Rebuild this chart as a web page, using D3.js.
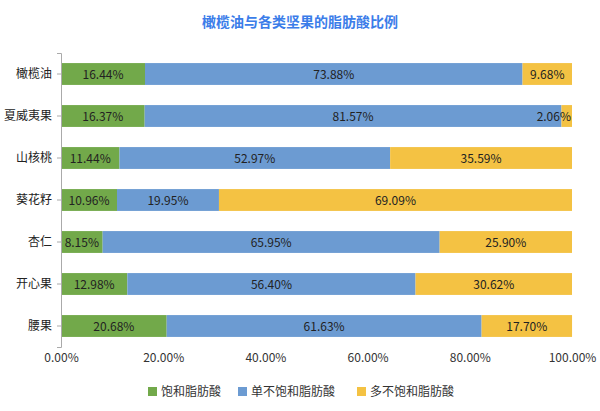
<!DOCTYPE html>
<html><head><meta charset="utf-8">
<script src="https://cdn.jsdelivr.net/npm/d3@7"></script>
<style>body{margin:0;background:#fff}text{font-family:"Noto Sans CJK SC","Microsoft YaHei",sans-serif}</style>
</head><body><svg id="c" width="600" height="411"></svg>
<script>
const categories=["橄榄油","夏威夷果","山核桃","葵花籽","杏仁","开心果","腰果"];
const saturated=[16.44,16.37,11.44,10.96,8.15,12.98,20.68];
const mono=[73.88,81.57,52.97,19.95,65.95,56.40,61.63];
const poly=[9.68,2.06,35.59,69.09,25.90,30.62,17.70];
const seriesNames=["饱和脂肪酸","单不饱和脂肪酸","多不饱和脂肪酸"];
const ticks=[0,20,40,60,80,100];
const colors=["#72A94A","#6C9BD2","#F4C243"];
const x=d3.scaleLinear().domain([0,100]).range([61,572]);
const y=d3.scaleBand().domain(categories).range([53,347]).paddingInner(0.48).paddingOuter(0.24);
const S=d3.select("#c");
S.append("text").attr("x",300).attr("y",27).attr("text-anchor","middle").attr("font-size",14).attr("font-weight","bold").attr("fill","#3B7DE9").text("橄榄油与各类坚果的脂肪酸比例");
const data=[saturated,mono,poly];
categories.forEach((c,i)=>{let acc=0;
 data.forEach((s,k)=>{const v=s[i];
  S.append("rect").attr("x",x(acc)).attr("y",y(c)).attr("width",x(acc+v)-x(acc)).attr("height",y.bandwidth()).attr("fill",colors[k]);
  let tx=(x(acc)+x(acc+v))/2, anchor="middle";
  if(k==2&&v<5){tx=x(100)-1;anchor="end";}
  S.append("text").attr("x",tx).attr("y",y(c)+y.bandwidth()/2+4.5).attr("text-anchor",anchor).attr("font-size",12).attr("fill","#222").text(v.toFixed(2)+"%");
  acc+=v;});
});
const ya=S.append("g").attr("transform","translate(61,0)").call(d3.axisLeft(y).tickSize(4).tickPadding(5));
ya.selectAll("text").attr("font-size",12).attr("fill","#222");
ya.selectAll("line,path").attr("stroke","#aaa");
const xa=S.append("g").attr("transform","translate(0,347)").call(d3.axisBottom(x).tickValues(ticks).tickSize(0).tickPadding(6).tickFormat(d=>d.toFixed(2)+"%"));
xa.select("path").remove();
xa.selectAll("text").attr("font-size",12).attr("fill","#333");
const lx=[148,238,357];
seriesNames.forEach((n,k)=>{
 S.append("rect").attr("x",lx[k]).attr("y",387).attr("width",9).attr("height",9).attr("fill",colors[k]);
 S.append("text").attr("x",lx[k]+13).attr("y",396).attr("font-size",12).attr("fill","#333").text(n);
});
</script></body></html>
